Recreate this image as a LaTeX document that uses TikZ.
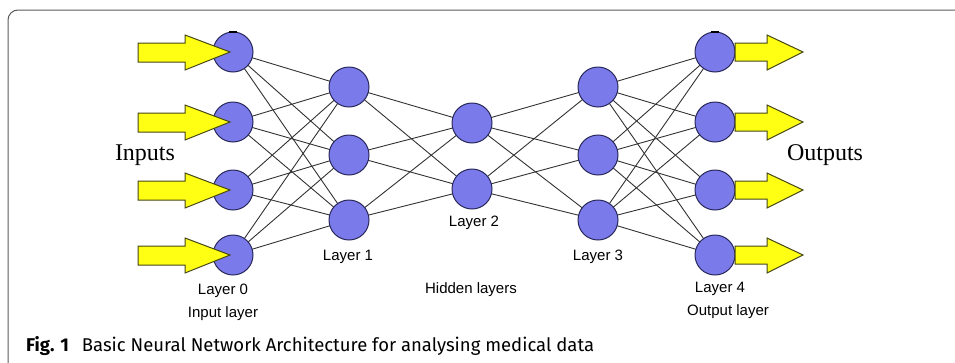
\documentclass[tikz,border=0pt]{standalone}
\usepackage{fontspec}
\setmainfont{Liberation Serif}
\newfontfamily\lblfont{Liberation Sans}
\newfontfamily\capfont{Fira Sans}
\begin{document}
\begin{tikzpicture}[x=1pt,y=-1pt,
  neuron/.style={circle,draw=nodeline,fill=nodefill,line width=1pt,minimum size=40pt,inner sep=0pt},
  link/.style={draw=linkgray,line width=0.9pt},
  yarrow/.style={draw=arrowline,fill=arrowfill,line width=1pt,line join=miter},
  lbl/.style={font=\lblfont\fontsize{15}{17}\selectfont,inner sep=0pt},
  serifl/.style={font=\fontsize{24}{28}\selectfont,inner sep=0pt}]
\definecolor{nodefill}{RGB}{122,122,234}
\definecolor{nodeline}{RGB}{40,40,90}
\definecolor{linkgray}{RGB}{50,50,50}
\definecolor{arrowfill}{RGB}{255,255,20}
\definecolor{arrowline}{RGB}{70,70,20}
\definecolor{framegray}{RGB}{90,90,90}
\useasboundingbox (0,0) rectangle (955,362);
\begin{scope}
\clip (0,0) rectangle (955,362);
\draw[framegray,line width=1pt,rounded corners=10pt] (8,10) rectangle (975,372);
\end{scope}
% layer coordinates
\foreach \i/\y in {1/52,2/122,3/190,4/255}{
  \coordinate (a\i) at (233,\y);
  \coordinate (e\i) at (715,\y);
}
\foreach \i/\y in {1/87,2/155,3/220}{
  \coordinate (b\i) at (349,\y);
  \coordinate (d\i) at (598,\y);
}
\foreach \i/\y in {1/123,2/189}{
  \coordinate (c\i) at (472,\y);
}
% links
\foreach \i in {1,...,4}{\foreach \j in {1,2,3}{\draw[link] (a\i) -- (b\j);}}
\foreach \i in {1,2,3}{\foreach \j in {1,2}{\draw[link] (b\i) -- (c\j);}}
\foreach \i in {1,2}{\foreach \j in {1,2,3}{\draw[link] (c\i) -- (d\j);}}
\foreach \i in {1,2,3}{\foreach \j in {1,...,4}{\draw[link] (d\i) -- (e\j);}}
% neurons
\foreach \i in {1,...,4}{
  \node[neuron] (na\i) at (a\i) {};
  \node[neuron] (ne\i) at (e\i) {};
}
\foreach \i in {1,2,3}{
  \node[neuron] (nb\i) at (b\i) {};
  \node[neuron] (nd\i) at (d\i) {};
}
\foreach \i in {1,2}{\node[neuron] (nc\i) at (c\i) {};}
% small marks at top of first neurons
\draw[black,line width=2pt] ([xshift=-4pt]na1.north) -- ([xshift=4pt]na1.north);
\draw[black,line width=2pt] ([xshift=-4pt]ne1.north) -- ([xshift=4pt]ne1.north);
% input arrows
\foreach \i in {1,...,4}{
  \draw[yarrow] ([xshift=-3pt]na\i.center)
    -- ++(-45,-17) -- ++(0,8) -- ++(-47,0) -- ++(0,19) -- ++(47,0) -- ++(0,8) -- cycle;
}
% output arrows
\foreach \i in {1,...,4}{
  \draw[yarrow] ([xshift=88pt]ne\i.center)
    -- ++(-36,-17) -- ++(0,8) -- ++(-32,0) -- ++(0,18) -- ++(32,0) -- ++(0,9) -- cycle;
}
% labels
\node[serifl] (tin) at (145,155) {Inputs};
\node[serifl] (tout) at (825,155) {Outputs};
\node[lbl] (l0) at (223,291) {Layer 0};
\node[lbl] (l0b) at (223,314) {Input layer};
\node[lbl] (l1) at (348,257) {Layer 1};
\node[lbl] (l2) at (474,223) {Layer 2};
\node[lbl] (l3) at (598,257) {Layer 3};
\node[lbl] (lh) at (471,290) {Hidden layers};
\node[lbl] (l4) at (720,289) {Layer 4};
\node[lbl] (l4b) at (728,312) {Output layer};
\node[anchor=base west,inner sep=0pt,font=\capfont\fontsize{18.5}{20}\selectfont] (cap) at (26,351)
  {\textbf{Fig. 1}\hspace{0.7em}Basic Neural Network Architecture for analysing medical data};
\end{tikzpicture}
\end{document}
